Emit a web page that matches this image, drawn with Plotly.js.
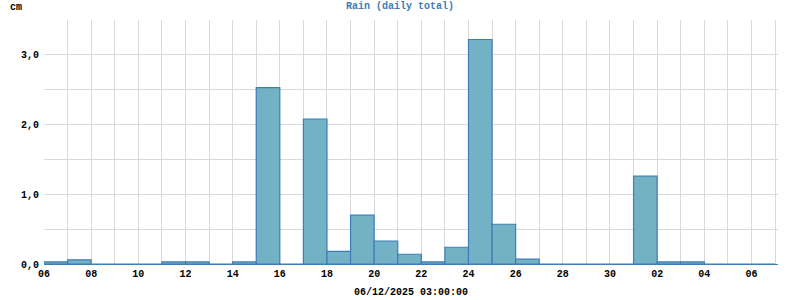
<!DOCTYPE html>
<html><head><meta charset="utf-8">
<script src="https://cdn.plot.ly/plotly-3.0.1.min.js"></script>
<style>body{margin:0;background:#fff}#c{width:800px;height:300px}</style>
</head><body><div id="c"></div>
<script>
const days = ["2025-11-06","2025-11-07","2025-11-08","2025-11-09","2025-11-10","2025-11-11","2025-11-12","2025-11-13","2025-11-14","2025-11-15","2025-11-16","2025-11-17","2025-11-18","2025-11-19","2025-11-20","2025-11-21","2025-11-22","2025-11-23","2025-11-24","2025-11-25","2025-11-26","2025-11-27","2025-11-28","2025-11-29","2025-11-30","2025-12-01","2025-12-02","2025-12-03","2025-12-04","2025-12-05","2025-12-06"];
const rain = [0.03,0.06,0,0,0,0.03,0.03,0,0.03,2.53,0,2.08,0.18,0.70,0.33,0.14,0.03,0.24,3.22,0.57,0.07,0,0,0,0,1.26,0.03,0.03,0,0,0];
const yTickVals = [0,1,2,3];
const xRange = ["2025-11-06 00:00","2025-12-07 03:00"];
const titleText = "Rain (daily total)";
const xTitle = "06/12/2025 03:00:00";
const yUnit = "cm";

const DAY = 86400000;
const font = {family:"Liberation Mono, Courier New, monospace", size:10, color:"#000", weight:"bold"};
Plotly.newPlot("c", [{
  type:"bar", x:days, y:rain, offset:0, width:days.map(()=>DAY),
  marker:{color:"#73b2c5", line:{color:"#3d7db8", width:1.2}},
  hoverinfo:"x+y"
}], {
  width:800, height:300,
  margin:{l:44, r:22, t:20, b:36},
  paper_bgcolor:"#fff", plot_bgcolor:"#fff",
  font:font,
  separators:",.",
  bargap:0,
  showlegend:false,
  title:{text:titleText, x:0.5, xanchor:"center", y:0.995, yanchor:"top", font:{family:font.family, size:10, color:"#3a7db5", weight:"bold"}},
  xaxis:{
    type:"date", range:xRange, dtick:2*DAY, tick0:"2025-11-06", tickformat:"%d",
    showgrid:true, gridcolor:"#d9d9d9", gridwidth:1,
    minor:{dtick:DAY, tick0:"2025-11-06", showgrid:true, gridcolor:"#d9d9d9", gridwidth:1},
    showline:true, linecolor:"#3d7db8", linewidth:1.2,
    ticks:"", ticklen:0, zeroline:false,
    tickfont:font,
    title:{text:xTitle, font:font, standoff:8}
  },
  yaxis:{
    range:[0,3.5], tickvals:yTickVals, tickformat:".1f",
    showgrid:true, gridcolor:"#d9d9d9", gridwidth:1,
    minor:{dtick:0.5, showgrid:true, gridcolor:"#d9d9d9", gridwidth:1},
    showline:false, zeroline:false, ticks:"", ticklabelstandoff:4,
    tickfont:font
  },
  annotations:[{text:yUnit, xref:"paper", yref:"paper", x:-0.049, y:1.05, xanchor:"left", yanchor:"middle", showarrow:false, font:font}]
}, {displayModeBar:false, staticPlot:true});
</script></body></html>
